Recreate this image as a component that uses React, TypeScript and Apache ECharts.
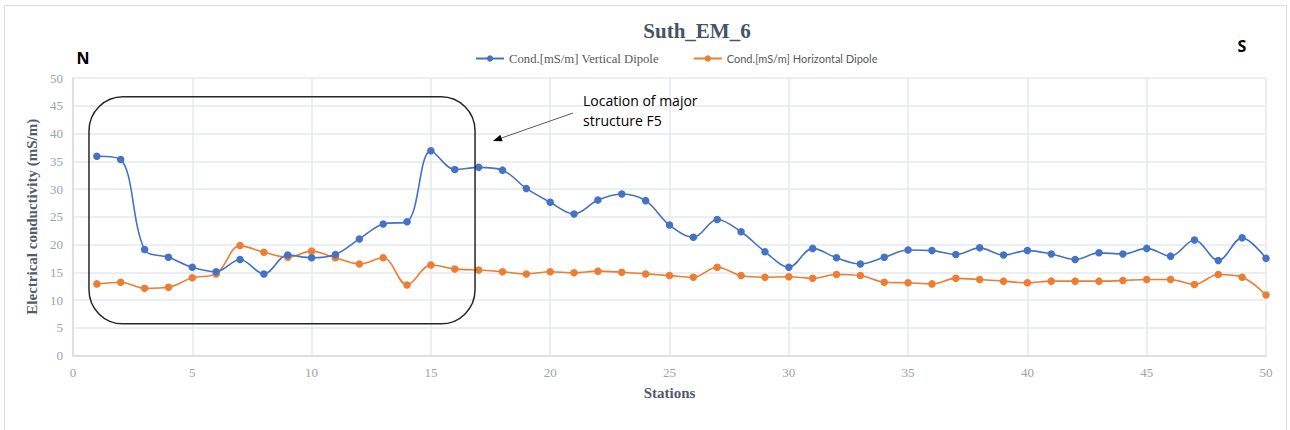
import React, { useEffect, useRef } from "react";
import * as echarts from "echarts";

const stations: number[] = Array.from({ length: 50 }, (_, i) => i + 1);

const verticalDipole: number[] = [
  35.9, 35.3, 19.1, 17.7, 15.9, 15.1, 17.3, 14.7, 18.1, 17.6,
  18.2, 21.0, 23.7, 24.1, 36.9, 33.5, 33.9, 33.4, 30.1, 27.6,
  25.5, 28.0, 29.1, 27.9, 23.5, 21.3, 24.5, 22.3, 18.7, 15.9,
  19.3, 17.6, 16.5, 17.7, 19.0, 18.9, 18.2, 19.4, 18.1, 18.9,
  18.3, 17.3, 18.5, 18.3, 19.3, 17.9, 20.8, 17.1, 21.2, 17.5,
];

const horizontalDipole: number[] = [
  12.9, 13.2, 12.1, 12.3, 14.0, 14.7, 19.8, 18.6, 17.7, 18.8,
  17.6, 16.5, 17.6, 12.7, 16.3, 15.6, 15.4, 15.1, 14.7, 15.1,
  14.9, 15.2, 15.0, 14.7, 14.4, 14.1, 15.9, 14.4, 14.1, 14.2,
  13.9, 14.6, 14.4, 13.2, 13.1, 12.9, 13.9, 13.7, 13.4, 13.1,
  13.4, 13.4, 13.4, 13.5, 13.7, 13.7, 12.8, 14.6, 14.1, 10.9,
];

const seriesNames: string[] = [
  "Cond.[mS/m] Vertical Dipole",
  "Cond.[mS/m] Horizontal Dipole",
];

const titleText = "Suth_EM_6";
const xAxisName = "Stations";
const yAxisName = "Electrical conductivity (mS/m)";
const annotationLines: string[] = ["Location of major", "structure F5"];
// Box around the first stations (data coordinates)
const boxX: number[] = [0.67, 16.85];
const boxY: number[] = [5.7, 46.6];

const serif = "'Liberation Serif', 'DejaVu Serif', serif";
const sans = "Lato, 'Open Sans', 'Noto Sans', sans-serif";
const calibri = "'Open Sans', 'Noto Sans', 'Liberation Sans', sans-serif";

export default function App() {
  const ref = useRef<HTMLDivElement>(null);

  useEffect(() => {
    if (!ref.current) return;
    const chart = echarts.init(ref.current, undefined, { renderer: "svg" });

    const option: any = {
      animation: false,
      backgroundColor: "#ffffff",
      title: {
        text: titleText,
        left: 692,
        textAlign: "center",
        top: 15,
        textStyle: {
          fontFamily: serif,
          fontSize: 21,
          fontWeight: "bold",
          color: "#44546A",
        },
      },
      legend: {
        left: 470,
        top: 47,
        itemWidth: 28,
        itemHeight: 8,
        itemGap: 34,
        data: seriesNames,
        formatter: (name: string) =>
          name.indexOf("Vertical") >= 0 ? `{a|${name}}` : `{b|${name}}`,
        textStyle: {
          color: "#595959",
          rich: {
            a: { fontFamily: serif, fontSize: 12.7, color: "#595959" },
            b: { fontFamily: sans, fontSize: 11, color: "#595959" },
          },
        },
      },
      grid: {
        left: 73,
        top: 78,
        right: 24,
        bottom: 74.5,
        containLabel: false,
      },
      xAxis: {
        type: "value",
        min: 0,
        max: 50,
        interval: 5,
        name: xAxisName,
        nameLocation: "middle",
        nameGap: 30,
        nameTextStyle: {
          fontFamily: serif,
          fontSize: 15,
          fontWeight: "bold",
          color: "#4F5B6E",
        },
        axisLine: { show: true, lineStyle: { color: "#D5DBE5", width: 1.5 } },
        axisTick: { show: false },
        axisLabel: {
          margin: 10,
          fontFamily: serif,
          fontSize: 13,
          color: "#9AA2AE",
        },
        splitLine: { show: true, lineStyle: { color: "#E4E8EF", width: 1.5 } },
      },
      yAxis: {
        type: "value",
        min: 0,
        max: 50,
        interval: 5,
        name: yAxisName,
        nameLocation: "middle",
        nameGap: 28,
        nameTextStyle: {
          fontFamily: serif,
          fontSize: 15,
          fontWeight: "bold",
          color: "#4F5B6E",
        },
        axisLine: { show: true, lineStyle: { color: "#D5DBE5", width: 1.5 } },
        axisTick: { show: false },
        axisLabel: {
          margin: 10,
          fontFamily: serif,
          fontSize: 13,
          color: "#9AA2AE",
        },
        splitLine: { show: true, lineStyle: { color: "#E4E8EF", width: 1.5 } },
      },
      series: [
        {
          name: seriesNames[0],
          type: "line",
          data: stations.map((s, i) => [s, verticalDipole[i]]),
          smooth: 0.35,
          symbol: "circle",
          symbolSize: 7.5,
          lineStyle: { color: "#4472C4", width: 1.6 },
          itemStyle: { color: "#4472C4" },
          z: 3,
        },
        {
          name: seriesNames[1],
          type: "line",
          data: stations.map((s, i) => [s, horizontalDipole[i]]),
          smooth: 0.35,
          symbol: "circle",
          symbolSize: 7.5,
          lineStyle: { color: "#ED7D31", width: 1.6 },
          itemStyle: { color: "#ED7D31" },
          z: 2,
        },
      ],
    };

    chart.setOption(option);

    const p1 = chart.convertToPixel({ gridIndex: 0 }, [boxX[0], boxY[1]]) as number[];
    const p2 = chart.convertToPixel({ gridIndex: 0 }, [boxX[1], boxY[0]]) as number[];

    const arrowStart = [573, 113];
    const arrowEnd = [493, 141];
    const dx = arrowEnd[0] - arrowStart[0];
    const dy = arrowEnd[1] - arrowStart[1];
    const len = Math.sqrt(dx * dx + dy * dy);
    const ux = dx / len;
    const uy = dy / len;
    const headLen = 9;
    const headW = 3.5;
    const baseX = arrowEnd[0] - ux * headLen;
    const baseY = arrowEnd[1] - uy * headLen;

    chart.setOption({
      graphic: [
        {
          type: "rect",
          shape: { x: 4.5, y: 5.5, width: 1282, height: 440 },
          style: { fill: "none", stroke: "#D9DDE3", lineWidth: 1 },
          silent: true,
          z: -1,
        },
        {
          type: "rect",
          shape: {
            x: p1[0],
            y: p1[1],
            width: p2[0] - p1[0],
            height: p2[1] - p1[1],
            r: 34,
          },
          style: { fill: "none", stroke: "#262626", lineWidth: 1.5 },
          silent: true,
          z: 10,
        },
        {
          type: "line",
          shape: { x1: arrowStart[0], y1: arrowStart[1], x2: baseX, y2: baseY },
          style: { stroke: "#595959", lineWidth: 1 },
          z: 10,
        },
        {
          type: "polygon",
          shape: {
            points: [
              [arrowEnd[0], arrowEnd[1]],
              [baseX - uy * headW, baseY + ux * headW],
              [baseX + uy * headW, baseY - ux * headW],
            ],
          },
          style: { fill: "#000000" },
          z: 10,
        },
        {
          type: "text",
          x: 583,
          y: 90,
          style: {
            text: annotationLines.join("\n"),
            fontFamily: calibri,
            fontSize: 14,
            lineHeight: 20,
            fill: "#000000",
          },
          z: 10,
        },
        {
          type: "text",
          x: 83,
          y: 58,
          style: {
            text: "N",
            fontFamily: calibri,
            fontSize: 16,
            fontWeight: "bold",
            fill: "#000000",
            align: "center",
            verticalAlign: "middle",
          },
          z: 10,
        },
        {
          type: "text",
          x: 1242,
          y: 46,
          style: {
            text: "S",
            fontFamily: calibri,
            fontSize: 16,
            fontWeight: "bold",
            fill: "#000000",
            align: "center",
            verticalAlign: "middle",
          },
          z: 10,
        },
      ],
    });

    return () => chart.dispose();
  }, []);

  return (
    <div
      ref={ref}
      style={{ position: "fixed", left: 0, top: 0, width: 1290, height: 430 }}
    />
  );
}
